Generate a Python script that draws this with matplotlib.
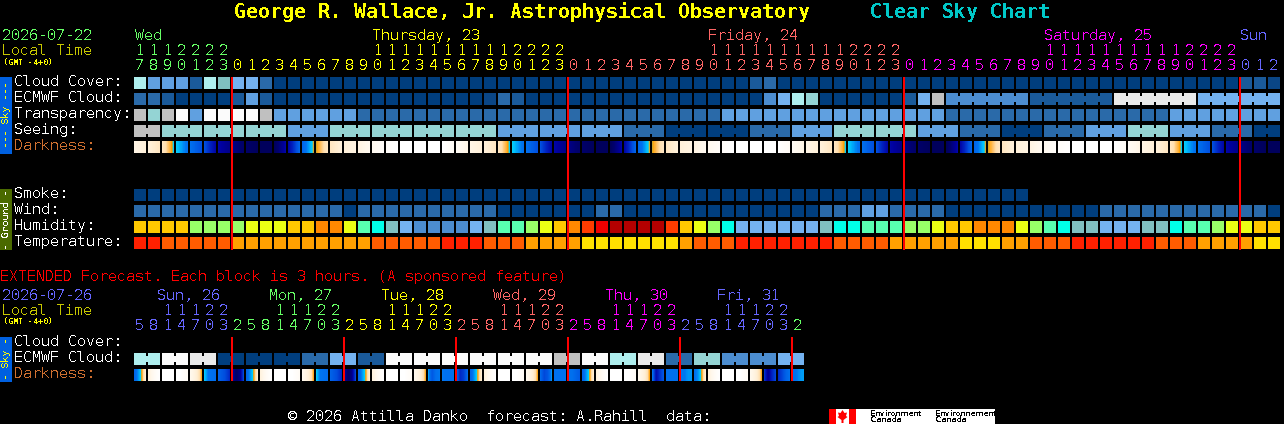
import numpy as np
import matplotlib
matplotlib.use("Agg")
import matplotlib.pyplot as plt
from matplotlib.colors import LinearSegmentedColormap
from matplotlib.patches import Rectangle, Polygon

plt.rcParams['font.family'] = ['DejaVu Sans Mono']
plt.rcParams['text.antialiased'] = False
plt.rcParams['text.hinting'] = 'native'
plt.rcParams['text.hinting_factor'] = 1

# ------- palette codes -------
PAL = {
    'd': '#003e7e', 'e': '#0a4686', 'f': '#1a5a9a', 'g': '#2a6aa9', 'h': '#4c8dd0',
    'i': '#60a0e0', 'j': '#74b2f0', 'k': '#80c0c0', 'l': '#94d4d4', 'm': '#aeeeee',
    'n': '#eaeaea', 'w': '#fbfbfb', 'c': '#c0c0c0',
    'Y': '#ffc800', 'G': '#98ff68', 'L': '#ebff14', 'O': '#ff8800', 'S': '#58ffb0',
    'C': '#00ffe8', 'F': '#ff3c00', 'R': '#f00000', 'B': '#b40000',
    'T': '#ff2000', 'U': '#ff5c00', 'V': '#ffa000', 'X': '#ffe000',
}

cloud_cover = "miiifmkjjg" + "d" * 34 + "fg" + "d" * 33 + "ffe"
ecmwf_cloud = "ggfddddfif" + "d" * 15 + "egf" + "d" * 17 + "hjml" + "d" * 6 + "fjc" + "hhhhhh" + "ffffff" + "nnnnnn" + "jjjjjj"
transparency = "clcwiwwwwc" + "iiiiii" + "g" * 26 + "i" * 16 + "g" * 16 + "i" * 8
seeing = ("cc" + "lll" "lll" "lll" "iii" "lll" "lll" "lll" "lll" "iii" "iii" "iii" "ggg" "ddd" "ddd"
          "ggg" "iii" "lll" "lll" "iii" "ggg" "ddd" "ggg" "iii" "lll" "iii" "ggg" "dd")
smoke = "d" * 64
wind = "g" * 15 + "d" + "g" * 10 + "d" * 7 + "gg" + "d" * 14 + "ggg" + "ii" + "gggg" + "d" * 11 + "g" * 12 + "d"
humidity = ("YYYYGGGGLLLYYOOLSCkjhhhhjkSSGLYOFRBBBBFYLGCjjjjjjkCC"
            "SSSGGLYYOOOLGSCkkjjjkkCSSGLLYY")
temperature = ("TTUUUUUVVVVVVVVVVUUUUUTTTUUUVVVVXXXXXXXVUUUTTTTTTTUU"
               "UUVVVVVXXXVVUUUTTTTTTUUUVVVVXX")

# hourly darkness levels at the cell edges (0 black .. 10 daylight)
darkness = [8.2, 7.6, 7.0, 5.6, 4.9, 4.0, 2.2, 1.5, 0.8, 0.4, 0.4, 2.2, 4.6, 5.75, 7.0, 7.6, 8.0, 8.8, 9.5, 10, 10, 10, 10, 9.2,
            8.2, 7.6, 7.0, 5.6, 4.9, 4.0, 2.2, 1.5, 0.8, 0.4, 0.4, 2.2, 4.6, 5.75, 7.0, 7.6, 8.0, 8.8, 9.5, 10, 10, 10, 10, 9.2,
            8.2, 7.6, 7.0, 5.6, 4.9, 4.0, 2.2, 1.5, 0.8, 0.4, 0.4, 2.2, 4.6, 5.75, 7.0, 7.6, 8.0, 8.8, 9.5, 10, 10, 10, 10, 9.2,
            8.2, 7.6, 7.0, 5.6, 4.9, 4.0, 2.2, 1.5, 0.8, 0.4, 0.4]

hours = [17, 18, 19, 20, 21, 22, 23] + [0, 1, 2, 3, 4, 5, 6, 7, 8, 9, 10, 11, 12, 13, 14, 15, 16, 17, 18, 19, 20, 21, 22, 23] * 3 + [0, 1, 2]
hour_colors = ['g'] * 7 + ['y'] * 24 + ['s'] * 24 + ['p'] * 24 + ['b'] * 3

ext_hours = [5, 8, 11, 14, 17, 20, 23] + [2, 5, 8, 11, 14, 17, 20, 23] * 5 + [2]
ext_colors = ['b'] * 7 + ['g'] * 8 + ['y'] * 8 + ['s'] * 8 + ['p'] * 8 + ['b'] * 8 + ['g']
ext_ecmwf = ("mmwwnnddddddggjjff" "ww" "wwwwwwwwww" "cc" "ww" "mm" "nn" "gg" "ll" "hhhh" "jj")
ext_dark = [
    (4.6, 5.2, 5.8, 7.4), (7.8, 8.6, 9.4, 9.9), (10, 10, 10, 10), (10, 10, 9.6, 9.2), (8.6, 8.0, 7.2, 5.9),
    (5.55, 5.0, 4.9, 4.8), (4.5, 4.2, 3.8, 3.2), (2.0, 0.8, 1.5, 3.8),
    (4.6, 5.2, 5.8, 7.4), (7.8, 8.6, 9.4, 9.9), (10, 10, 10, 10), (10, 10, 9.6, 9.2), (8.6, 8.0, 7.2, 5.9),
    (5.55, 5.0, 4.9, 4.8), (4.5, 4.2, 3.8, 3.2), (2.0, 0.8, 1.5, 3.8),
    (4.6, 5.2, 5.8, 7.4), (7.8, 8.6, 9.4, 9.9), (10, 10, 10, 10), (10, 10, 9.6, 9.2), (8.6, 8.0, 7.2, 5.9),
    (5.3, 4.2, 4.9, 5.0), (5.0, 4.9, 4.9, 4.9), (4.7, 3.2, 3.6, 4.7),
    (4.6, 5.2, 5.8, 7.4), (7.8, 8.6, 9.4, 9.9), (10, 10, 10, 10), (10, 10, 9.6, 9.2), (8.6, 8.0, 7.2, 5.9),
    (4.7, 3.8, 4.2, 5.2), (4.9, 4.9, 4.9, 4.9), (4.9, 4.9, 4.6, 4.3),
    (4.6, 5.2, 5.8, 7.4), (7.8, 8.6, 9.4, 9.9), (10, 10, 10, 10), (10, 10, 9.6, 9.2), (8.6, 8.0, 7.2, 5.9),
    (4.9, 2.4, 3.4, 4.2), (4.9, 4.9, 4.9, 4.9), (5.0, 5.0, 5.2, 5.2),
    (4.9, 5.2, 5.8, 7.4), (7.8, 8.6, 9.4, 9.9), (10, 10, 10, 10), (10, 10, 9.6, 9.2), (8.6, 8.0, 7.2, 5.9),
    (3.4, 1.6, 3.0, 3.8), (3.2, 3.8, 4.5, 4.9), (4.9, 5.0, 5.2, 5.3),
]

row_labels = ["Cloud Cover:", "ECMWF Cloud:", "Transparency:", "Seeing:", "Darkness:",
              "Smoke:", "Wind:", "Humidity:", "Temperature:"]
day_labels = [("Wed", 'g', 135), ("Thursday, 23", 'y', 372), ("Friday, 24", 's', 708),
              ("Saturday, 25", 'p', 1044), ("Sun", 'b', 1240)]
ext_days = [("Sun, 26", 'b', 157), ("Mon, 27", 'g', 269), ("Tue, 28", 'y', 381),
            ("Wed, 29", 's', 493), ("Thu, 30", 'p', 605), ("Fri, 31", 'b', 717)]
midnights = [7, 31, 55, 79]
ext_midnights = [7, 15, 23, 31, 39, 47]

# ------- layout -------
W, H = 1284, 424
X0, PITCH, CELL = 134, 14, 12
TXT = {'g': '#66ff66', 'y': '#ffff00', 's': '#ff6666', 'p': '#ff00ff', 'b': '#6666ff'}
FS = 15 * 72 / 100   # 15 pixel text

fig = plt.figure(figsize=(W / 100, H / 100), dpi=100, facecolor='black')
ax = fig.add_axes([0, 0, 1, 1])
ax.set_facecolor('black')
ax.axis('off')

dark_cmap = LinearSegmentedColormap.from_list("dark", [
    (0.00, '#000050'), (0.10, '#000070'), (0.20, '#0000a0'), (0.30, '#0020c0'),
    (0.40, '#0050e0'), (0.50, '#0074f0'), (0.56, '#00d0ff'), (0.58, '#ffa000'),
    (0.62, '#ffc060'), (0.66, '#ffdfb0'), (0.75, '#fff0d8'), (0.85, '#fff8ec'), (1.00, '#ffffff')])


def rect(x, y, w, h, color, z=2):
    ax.add_patch(Rectangle((x, y), w, h, facecolor=color, edgecolor='none',
                           antialiased=False, zorder=z))


def row(codes, y, groups=None):
    for k, c in enumerate(codes):
        rect(X0 + PITCH * k, y, CELL, CELL, PAL[c])
    for a, b in (groups or []):
        for k in range(a, b):
            rect(X0 + PITCH * k + CELL, y + 3, PITCH - CELL, 6, PAL[codes[k]])


def gradient(k, y, stops):
    vals = np.interp(np.linspace(0, 1, CELL), np.linspace(0, 1, len(stops)), stops) / 10
    ax.imshow(vals[None, :], cmap=dark_cmap, vmin=0, vmax=1, aspect='auto', interpolation='nearest',
              extent=(X0 + PITCH * k, X0 + PITCH * k + CELL, y + CELL, y), zorder=2)


def txt(x, y, s, color='white', size=FS, **kw):
    ax.text(x, y, s, color=color, fontsize=size, va='baseline', ha=kw.pop('ha', 'left'), zorder=5, **kw)


# title
txt(234, 18, "George R. Wallace, Jr. Astrophysical Observatory", '#ffff00', 20 * .72, fontweight='bold')
txt(870, 18, "Clear Sky Chart", '#00c8c8', 20 * .72, fontweight='bold')

# headers
txt(2, 40, "2026-07-22", TXT['g'])
txt(2, 55, "Local Time", '#c8c800')
txt(3, 65, "(GMT -4+0)", '#ffff00', 6.0, fontweight='bold')
for s, c, x in day_labels:
    txt(x, 40, s, TXT[c])
for k, (h, c) in enumerate(zip(hours, hour_colors)):
    cx = X0 + PITCH * k + 6
    if h >= 10:
        txt(cx, 55, str(h // 10), TXT[c], ha='center')
    txt(cx, 70, str(h % 10), TXT[c], ha='center')

# rows
base = [86, 102, 118, 134, 150, 198, 214, 230, 246]
for s, y in zip(row_labels, base):
    txt(14, y, s, '#d07030' if s == "Darkness:" else 'white')

seeing_groups = [(0, 1)] + [(a, a + 2) for a in range(2, 80, 3)] + [(80, 81)]
row(cloud_cover, 77)
row(ecmwf_cloud, 93, [(58, 63), (64, 69), (70, 75), (76, 81)])
row(transparency, 109)
row(seeing, 125, seeing_groups)
for k in range(82):
    gradient(k, 141, [darkness[k], darkness[k + 1]])
row(smoke, 189)
row(wind, 205)
row(humidity, 221)
row(temperature, 237)

for k in midnights:
    rect(X0 + PITCH * k - 1, 77, 2, 173, '#ff0000', 4)

# side bars
rect(0, 77, 12, 77, '#0060e0', 3)
ax.text(6, 115.5, "--- Sky ---", color='#ffff00', fontsize=7.2, rotation=90, ha='center', va='center', zorder=5)
rect(0, 189, 12, 61, '#4a6a00', 3)
ax.text(6, 219.5, "- Ground -", color='white', fontsize=7.2, rotation=90, ha='center', va='center', zorder=5)

# extended
txt(0, 281, "EXTENDED Forecast. Each block is 3 hours. (A sponsored feature)", '#ff0000')
txt(2, 300, "2026-07-26", TXT['b'])
txt(2, 315, "Local Time", '#c8c800')
txt(3, 324, "(GMT -4+0)", '#ffff00', 6.0, fontweight='bold')
for s, c, x in ext_days:
    txt(x, 300, s, TXT[c])
for k, (h, c) in enumerate(zip(ext_hours, ext_colors)):
    cx = X0 + PITCH * k + 6
    if h >= 10:
        txt(cx, 315, str(h // 10), TXT[c], ha='center')
    txt(cx, 330, str(h % 10), TXT[c], ha='center')
txt(14, 346, "Cloud Cover:")
txt(14, 362, "ECMWF Cloud:")
txt(14, 378, "Darkness:", '#d07030')
row(ext_ecmwf, 353, [(a, a + 1) for a in range(0, 48, 2)])
for k, st in enumerate(ext_dark):
    gradient(k, 369, st)
for k in ext_midnights:
    rect(X0 + PITCH * k - 1, 337, 2, 44, '#ff0000', 4)
rect(0, 337, 12, 45, '#0060e0', 3)
ax.text(6, 359.5, "- Sky -", color='#ffff00', fontsize=7.2, rotation=90, ha='center', va='center', zorder=5)

# footer
txt(288, 421, "\u00a9 2026 Attilla Danko  forecast: A.Rahill  data:")
rect(829, 409, 166, 15, 'white', 3)
rect(829, 409, 7, 15, '#ff0000', 4)
rect(849, 409, 7, 15, '#ff0000', 4)
ax.add_patch(Polygon([(842.5, 410), (844.5, 413), (847, 412.5), (846, 416), (847.5, 417), (843.5, 420),
                      (843.5, 423), (841.5, 423), (841.5, 420), (837.5, 417), (839, 416), (838, 412.5), (840.5, 413)],
                     closed=True, facecolor='#ff0000', edgecolor='none', zorder=4))
sans = dict(fontsize=5.6, family='DejaVu Sans', color='black', va='baseline', zorder=5)
ax.text(870, 415.5, "Environment", **sans)
ax.text(870, 422.5, "Canada", **sans)
ax.text(935, 415.5, "Environnement", **sans)
ax.text(935, 422.5, "Canada", **sans)

ax.set_xlim(0, W)
ax.set_ylim(H, 0)
fig.savefig("out.png", dpi=100, facecolor='black')
